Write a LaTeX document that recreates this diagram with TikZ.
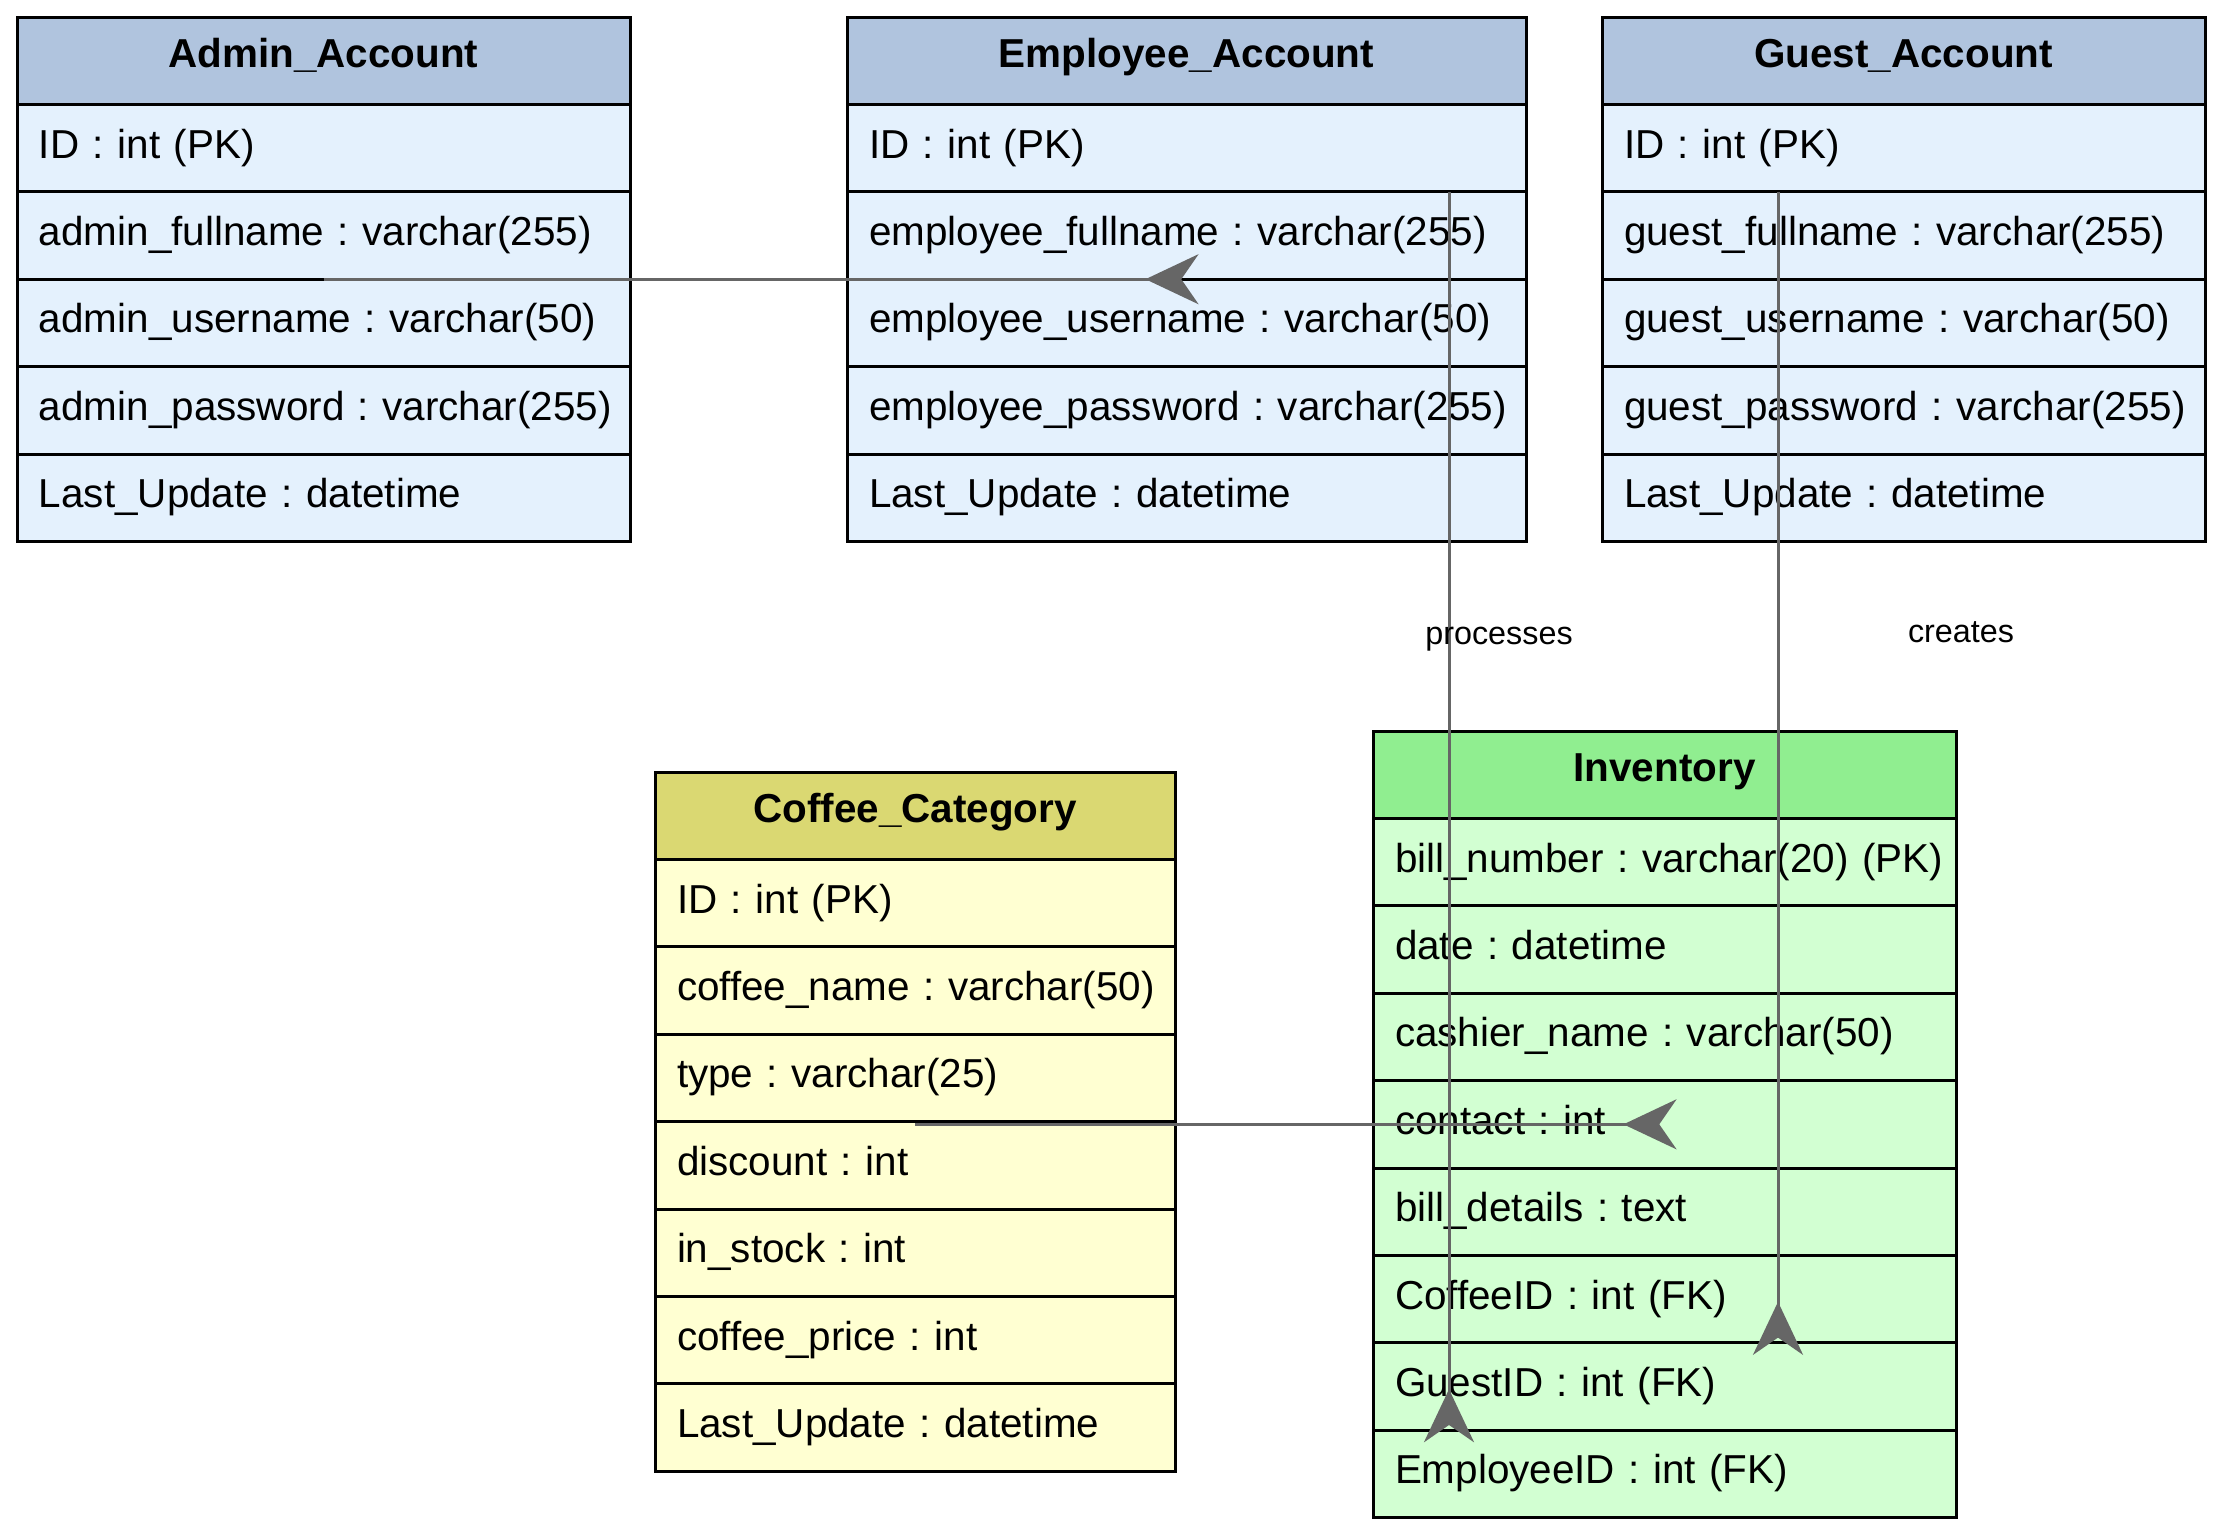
\documentclass[tikz,border=0pt]{standalone}
\usepackage{fontspec}
\setmainfont{Liberation Sans}
\usepackage{xcolor}
\definecolor{acctHead}{HTML}{B0C4DE}
\definecolor{acctBody}{HTML}{E4F1FD}
\definecolor{coffeeHead}{HTML}{DAD872}
\definecolor{coffeeBody}{HTML}{FFFFD2}
\definecolor{invHead}{HTML}{90EE90}
\definecolor{invBody}{HTML}{D2FFD2}
\definecolor{relGray}{HTML}{666666}
\usetikzlibrary{arrows.meta,positioning}
\frenchspacing
\tikzset{
    tblhead/.style={
        draw=black,
        line width=0.3mm,
        outer sep=0pt,
        inner xsep=2.2mm,
        inner ysep=0pt,
        minimum height=8.74mm,
        text width=#1,
        align=center,
        text height=2.9mm,
        text depth=1.6mm,
        font=\fontsize{11.5}{14}\selectfont\bfseries
    },
    tblrow/.style={
        tblhead=#1,
        align=left,
        text depth=0.9mm,
        font=\fontsize{11.5}{14}\selectfont
    },
    relation/.style={
        draw=relGray,
        line width=0.3mm,
        -{Stealth[reversed, length=5.3mm, width=5mm]},
        shorten >=-1.2mm
    },
    rellabel/.style={
        font=\fontsize{9.2}{11}\selectfont,
        inner sep=0pt
    }
}

\begin{document}
\begin{tikzpicture}[x=0.1mm, y=-0.1mm]
    \useasboundingbox (0,0) rectangle (2221,1533);

    % Account tables
    \node[tblhead=56.9mm, fill=acctHead, anchor=north west] (adm-0) at (17,17) {\mbox{Admin\_Account}};
    \foreach \t [count=\i, remember=\i as \j (initially 0)] in {ID : int (PK), admin\_fullname : varchar(255), admin\_username : varchar(50), admin\_password : varchar(255), Last\_Update : datetime}
        \node[tblrow=56.9mm, fill=acctBody, below=0pt of adm-\j] (adm-\i) {\mbox{\t}};

    \node[tblhead=63.5mm, fill=acctHead, anchor=north west] (emp-0) at (847,17) {\mbox{Employee\_Account}};
    \foreach \t [count=\i, remember=\i as \j (initially 0)] in {ID : int (PK), employee\_fullname : varchar(255), employee\_username : varchar(50), employee\_password : varchar(255), Last\_Update : datetime}
        \node[tblrow=63.5mm, fill=acctBody, below=0pt of emp-\j] (emp-\i) {\mbox{\t}};

    \node[tblhead=55.9mm, fill=acctHead, anchor=north west] (gst-0) at (1602,17) {\mbox{Guest\_Account}};
    \foreach \t [count=\i, remember=\i as \j (initially 0)] in {ID : int (PK), guest\_fullname : varchar(255), guest\_username : varchar(50), guest\_password : varchar(255), Last\_Update : datetime}
        \node[tblrow=55.9mm, fill=acctBody, below=0pt of gst-\j] (gst-\i) {\mbox{\t}};

    % Coffee table
    \node[tblhead=47.6mm, fill=coffeeHead, anchor=north west] (cof-0) at (655,772) {\mbox{Coffee\_Category}};
    \foreach \t [count=\i, remember=\i as \j (initially 0)] in {ID : int (PK), coffee\_name : varchar(50), type : varchar(25), discount : int, in\_stock : int, coffee\_price : int, Last\_Update : datetime}
        \node[tblrow=47.6mm, fill=coffeeBody, below=0pt of cof-\j] (cof-\i) {\mbox{\t}};

    % Inventory table
    \node[tblhead=53.9mm, fill=invHead, anchor=north west] (inv-0) at (1373,731) {\mbox{Inventory}};
    \foreach \t [count=\i, remember=\i as \j (initially 0)] in {bill\_number : varchar(20) (PK), date : datetime, cashier\_name : varchar(50), contact : int, bill\_details : text, CoffeeID : int (FK), GuestID : int (FK), EmployeeID : int (FK)}
        \node[tblrow=53.9mm, fill=invBody, below=0pt of inv-\j] (inv-\i) {\mbox{\t}};

    % Relations
    \draw[relation] (adm-2.south) -- (emp-2.south);
    \draw[relation] (inv-4.center -| cof-3.south) -- (inv-4.center);

    \coordinate (procTop) at ([xshift=26.25mm]emp-1.south);
    \draw[relation] (procTop) -- (procTop |- inv-8.north)
        node[rellabel, pos=0.361, xshift=5mm] {processes};

    \coordinate (creaTop) at ([xshift=-12.55mm]gst-1.south);
    \draw[relation] (creaTop) -- (creaTop |- inv-7.north)
        node[rellabel, pos=0.383, xshift=18.3mm] {creates};
\end{tikzpicture}
\end{document}
